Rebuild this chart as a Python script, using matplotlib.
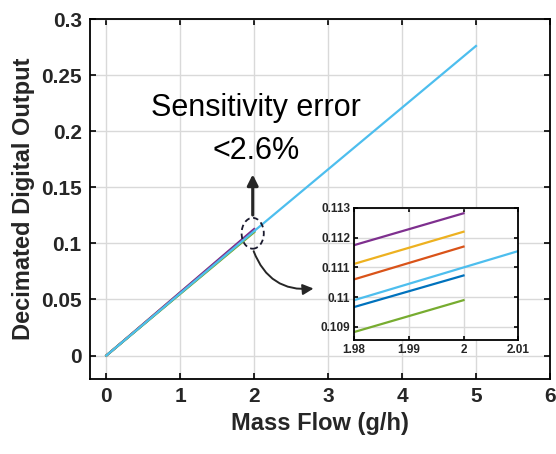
import numpy as np
import matplotlib.pyplot as plt
from matplotlib.patches import Ellipse

plt.rcParams['font.family'] = ['Liberation Sans', 'DejaVu Sans']

# data: six sensor curves (x in g/h, decimated output)
x_short = [0.0, 1.98, 2.0]
y_purple = [0.0, 0.11175, 0.11282]
y_yellow = [0.0, 0.11112, 0.11220]
y_orange = [0.0, 0.11060, 0.11170]
y_blue = [0.0, 0.10967, 0.11073]
y_green = [0.0, 0.10883, 0.10990]
x_lblue = [0.0, 1.98, 2.0, 2.01, 5.0]
y_lblue = [0.0, 0.10990, 0.11100, 0.11155, 0.2760]

series = [
    (x_short, y_blue, '#0072BD'),
    (x_short, y_orange, '#D95319'),
    (x_short, y_yellow, '#EDB120'),
    (x_short, y_purple, '#7E2F8E'),
    (x_short, y_green, '#77AC30'),
    (x_lblue, y_lblue, '#4DBEEE'),
]

xticks = [0, 1, 2, 3, 4, 5, 6]
yticks = [0, 0.05, 0.1, 0.15, 0.2, 0.25, 0.3]
yticklabels = ['0', '0.05', '0.1', '0.15', '0.2', '0.25', '0.3']
in_xticks = [1.98, 1.99, 2.0, 2.01]
in_xlabels = ['1.98', '1.99', '2', '2.01']
in_yticks = [0.109, 0.110, 0.111, 0.112, 0.113]
in_ylabels = ['0.109', '0.11', '0.111', '0.112', '0.113']


def style_axes(ax, size):
    ax.grid(True, color='#d9d9d9', linewidth=1.0)
    ax.set_axisbelow(True)
    ax.tick_params(direction='in', top=True, right=True, length=4, width=1.2,
                   labelsize=size, pad=6)
    for s in ax.spines.values():
        s.set_linewidth(1.3)
    for lab in ax.get_xticklabels() + ax.get_yticklabels():
        lab.set_fontweight('bold')
        lab.set_color('#262626')


fig = plt.figure(figsize=(5.56, 4.54), dpi=100)
ax = fig.add_axes([0.162, 0.165, 0.827, 0.793])
for xs, ys, c in series:
    ax.plot(xs, ys, color=c, linewidth=1.6)
ax.set_xlim(-0.22, 6)
ax.set_ylim(-0.021, 0.3)
ax.set_xticks(xticks)
ax.set_yticks(yticks)
ax.set_yticklabels(yticklabels)
style_axes(ax, 15)
ax.set_xlabel('Mass Flow (g/h)', fontsize=17, fontweight='bold', color='#262626')
ax.set_ylabel('Decimated Digital Output', fontsize=17, fontweight='bold', color='#262626')

ax.text(2.02, 0.2133, 'Sensitivity error', fontsize=22, ha='center', va='baseline')
ax.text(2.02, 0.175, '<2.6%', fontsize=22, ha='center', va='baseline')
ax.add_patch(Ellipse((1.98, 0.109), 0.3, 0.0275, fill=False, linestyle=(0, (3, 2)),
                     linewidth=1.3, edgecolor='#1a1a2e', zorder=5))
ax.annotate('', xy=(1.98, 0.164), xytext=(1.98, 0.1228),
            arrowprops=dict(arrowstyle='-|>', color='#262626', lw=2.2, mutation_scale=16))
ax.annotate('', xy=(2.84, 0.060), xytext=(1.98, 0.0953),
            arrowprops=dict(arrowstyle='-|>', color='#262626', lw=1.4, mutation_scale=16,
                            connectionstyle='arc3,rad=0.4'))

ins = fig.add_axes([0.637, 0.251, 0.295, 0.291])
for xs, ys, c in series:
    ins.plot(xs, ys, color=c, linewidth=1.6)
ins.set_xlim(1.98, 2.01)
ins.set_ylim(0.10856, 0.113)
ins.set_xticks(in_xticks)
ins.set_xticklabels(in_xlabels)
ins.set_yticks(in_yticks)
ins.set_yticklabels(in_ylabels)
style_axes(ins, 8.5)
ins.tick_params(pad=3, length=3)

fig.savefig('out.png', dpi=100)
